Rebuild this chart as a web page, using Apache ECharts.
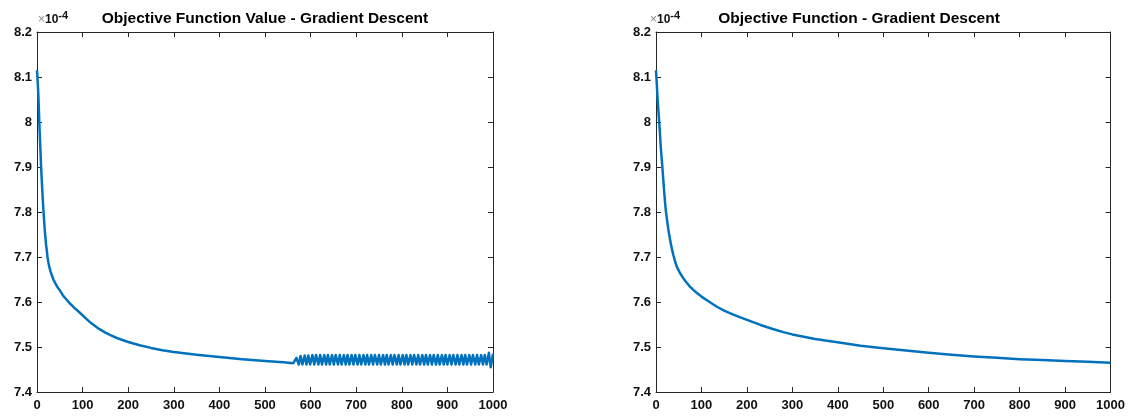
<!DOCTYPE html>
<html><head><meta charset="utf-8">
<script src="https://cdn.jsdelivr.net/npm/echarts@6/dist/echarts.min.js"></script>
<style>html,body{margin:0;padding:0;background:#fff}#c{width:1128px;height:416px}</style>
</head><body><div id="c"></div>
<script>
// Titles
const titles = ['Objective Function Value - Gradient Descent', 'Objective Function - Gradient Descent'];
// Axis ticks
const xTicks = [0,100,200,300,400,500,600,700,800,900,1000];
const yTicks = [7.4,7.5,7.6,7.7,7.8,7.9,8.0,8.1,8.2];
// Left plot, smooth descent: iterations and objective values (×1e-4)
const leftIter = [0,2,3,4,5,6,7,8,9,10,11,12,14,15,17,19,20,22,23,25,27,30,32,36,40,45,50,58,65,72,82,94,110,120,131,138,150,160,175,189,200,225,250,275,300,350,400,450,500,540,562];
const leftVal = [8.115,8.08,8.06,8.03,8.00,7.975,7.95,7.925,7.90,7.88,7.86,7.84,7.805,7.79,7.76,7.737,7.726,7.71,7.70,7.688,7.678,7.667,7.661,7.650,7.642,7.633,7.626,7.613,7.605,7.597,7.587,7.576,7.561,7.552,7.544,7.539,7.532,7.527,7.520,7.515,7.511,7.504,7.498,7.493,7.489,7.483,7.478,7.473,7.469,7.466,7.464];
// Left plot, oscillating tail (alternating troughs / peaks)
const leftOscIter = [
  565,569,574,578,582,587,591,595,599,604,
  608,612,617,621,625,630,634,638,642,647,
  651,655,660,664,668,673,677,681,685,690,
  694,698,703,707,711,716,720,724,728,733,
  737,741,746,750,754,759,763,767,771,776,
  780,784,789,793,797,802,806,810,814,819,
  823,827,832,836,840,845,849,853,857,862,
  866,870,875,879,883,888,892,896,900,905,
  909,913,918,922,926,931,935,939,943,948,
  952,956,961,965,969,974,978,982,986,991,
  995,1000];
const leftOscVal = [
  7.462,7.476,7.461,7.480,7.461,7.481,7.461,7.481,7.461,7.482,
  7.461,7.482,7.461,7.482,7.461,7.482,7.461,7.482,7.461,7.482,
  7.461,7.482,7.461,7.482,7.461,7.482,7.461,7.482,7.461,7.482,
  7.461,7.482,7.461,7.482,7.461,7.482,7.461,7.482,7.461,7.482,
  7.461,7.482,7.461,7.482,7.461,7.482,7.461,7.482,7.461,7.482,
  7.461,7.482,7.461,7.482,7.461,7.482,7.461,7.482,7.461,7.482,
  7.461,7.482,7.461,7.482,7.461,7.482,7.461,7.482,7.461,7.482,
  7.461,7.482,7.461,7.482,7.461,7.482,7.461,7.482,7.461,7.482,
  7.461,7.482,7.461,7.482,7.461,7.482,7.461,7.482,7.461,7.482,
  7.461,7.482,7.461,7.482,7.461,7.482,7.461,7.482,7.461,7.487,
  7.455,7.485];
// Right plot
const rightIter = [0,2,3,5,7,9,10,12,14,16,18,20,22,25,27,30,32,35,38,42,46,53,60,65,73,82,90,100,118,133,150,170,190,206,230,257,280,300,350,403,450,500,550,600,650,700,750,800,850,900,950,1000];
const rightVal = [8.115,8.08,8.06,8.03,8.00,7.97,7.95,7.925,7.90,7.872,7.845,7.82,7.80,7.777,7.762,7.744,7.733,7.718,7.705,7.690,7.678,7.664,7.653,7.646,7.636,7.627,7.620,7.612,7.600,7.590,7.581,7.572,7.564,7.558,7.549,7.540,7.533,7.528,7.518,7.510,7.503,7.497,7.492,7.487,7.483,7.479,7.476,7.473,7.471,7.469,7.467,7.465];

const pair = (xs, ys) => xs.map((x, i) => [x, ys[i]]);
const AX = '#262626';
const FONT = '"Liberation Sans",Arial,sans-serif';
const grids = [{left:37, top:32, width:456, height:360}, {left:656, top:32, width:456, height:360}];

const xAxis = [], yAxis = [];
grids.forEach((g, gi) => {
  ['bottom','top'].forEach(pos => xAxis.push({
    type:'value', gridIndex:gi, position:pos, min:xTicks[0], max:xTicks[xTicks.length-1], interval:100,
    axisLine:{show:true, lineStyle:{color:AX, width:1}},
    axisTick:{show:true, inside:true, length:5, lineStyle:{color:AX}},
    splitLine:{show:false},
    axisLabel:{show:pos==='bottom', color:'#111', fontFamily:FONT, fontWeight:'bold', fontSize:13, margin:7,
      formatter: v => String(v)}
  }));
  ['left','right'].forEach(pos => yAxis.push({
    type:'value', gridIndex:gi, position:pos, min:yTicks[0], max:yTicks[yTicks.length-1], interval:0.1,
    axisLine:{show:true, onZero:false, lineStyle:{color:AX, width:1}},
    axisTick:{show:true, inside:true, length:5, lineStyle:{color:AX}},
    splitLine:{show:false},
    axisLabel:{show:pos==='left', color:'#111', fontFamily:FONT, fontWeight:'bold', fontSize:13, margin:5,
      formatter: v => String(+v.toFixed(1))}
  }));
});

const lineSeries = (data, gi) => ({
  type:'line', xAxisIndex:gi*2, yAxisIndex:gi*2, data, showSymbol:false, symbol:'none',
  smooth:false, lineStyle:{color:'#0072BD', width:2.5, join:'round'}, animation:false
});

const leftData = pair(leftIter, leftVal).concat(pair(leftOscIter, leftOscVal));

const titleCenters = [265, 859];
const expoX = [38, 650];
const graphic = [];
titles.forEach((t, i) => {
  graphic.push({type:'text', x:titleCenters[i], y:19, style:{text:t, align:'center', verticalAlign:'middle',
    font:'bold 15.5px '+FONT, fill:'#000'}});
  graphic.push({type:'text', x:expoX[i], y:20, style:{text:'{a|×}{b|10}{c|-4}', verticalAlign:'middle', align:'left',
    rich:{a:{font:'12px '+FONT, fill:'#888'}, b:{font:'bold 12px '+FONT, fill:'#111'},
          c:{font:'bold 11px '+FONT, fill:'#111', padding:[0,0,8,0]}}}});
});

const chart = echarts.init(document.getElementById('c'));
chart.setOption({
  animation:false, backgroundColor:'#fff',
  grid:grids, xAxis, yAxis,
  series:[lineSeries(leftData,0), lineSeries(pair(rightIter,rightVal),1)],
  graphic
});
</script></body></html>
